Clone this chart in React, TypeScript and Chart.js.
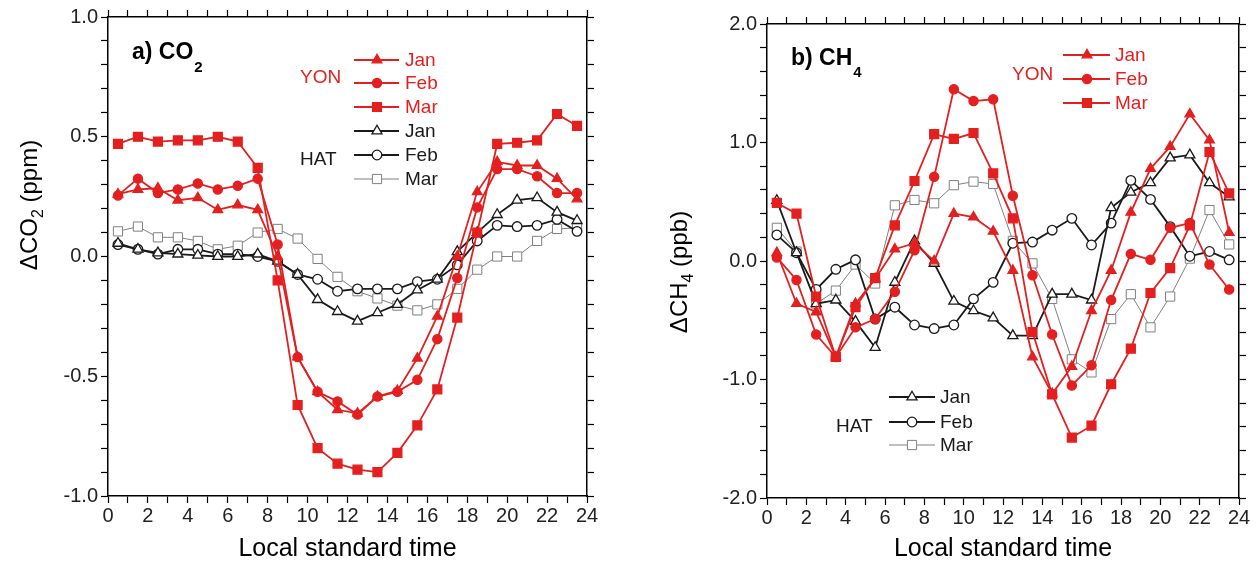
import React, { useEffect, useRef } from "react";
import { Chart, registerables } from "chart.js";
Chart.register(...registerables);

// ---------- data ----------
const hours = [0.5, 1.5, 2.5, 3.5, 4.5, 5.5, 6.5, 7.5, 8.5, 9.5, 10.5, 11.5, 12.5, 13.5, 14.5, 15.5, 16.5, 17.5, 18.5, 19.5, 20.5, 21.5, 22.5, 23.5];
const monthNames = ["Jan", "Feb", "Mar"];
const siteNames = ["YON", "HAT"];
const xTickLabelHours = [0, 2, 4, 6, 8, 10, 12, 14, 16, 18, 20, 22, 24];
const co2TickLabelValues = [-1.0, -0.5, 0.0, 0.5, 1.0];
const ch4TickLabelValues = [-2.0, -1.0, 0.0, 1.0, 2.0];

const co2YonJan = [0.26, 0.28, 0.285, 0.235, 0.245, 0.195, 0.215, 0.195, 0.0, -0.42, -0.565, -0.64, -0.655, -0.585, -0.56, -0.425, -0.25, 0.0, 0.27, 0.395, 0.38, 0.38, 0.325, 0.24];
const co2YonFeb = [0.255, 0.325, 0.265, 0.28, 0.305, 0.28, 0.295, 0.325, 0.05, -0.42, -0.565, -0.605, -0.66, -0.585, -0.565, -0.515, -0.345, -0.09, 0.205, 0.365, 0.365, 0.335, 0.265, 0.265];
const co2YonMar = [0.47, 0.5, 0.48, 0.485, 0.485, 0.5, 0.48, 0.37, -0.1, -0.62, -0.8, -0.865, -0.89, -0.9, -0.82, -0.705, -0.555, -0.255, 0.1, 0.47, 0.475, 0.485, 0.595, 0.545];
const co2HatJan = [0.055, 0.03, 0.015, 0.01, 0.005, 0.0, 0.0, 0.01, -0.02, -0.075, -0.18, -0.23, -0.27, -0.235, -0.2, -0.14, -0.095, 0.02, 0.1, 0.175, 0.235, 0.245, 0.185, 0.15];
const co2HatFeb = [0.05, 0.03, 0.01, 0.03, 0.03, 0.01, 0.01, 0.0, -0.02, -0.075, -0.095, -0.145, -0.135, -0.135, -0.135, -0.105, -0.095, -0.035, 0.065, 0.13, 0.125, 0.13, 0.155, 0.105];
const co2HatMar = [0.105, 0.125, 0.08, 0.08, 0.065, 0.03, 0.045, 0.1, 0.115, 0.075, -0.01, -0.085, -0.145, -0.175, -0.205, -0.225, -0.2, -0.135, -0.055, 0.0, 0.0, 0.065, 0.115, 0.12];

const ch4YonJan = [0.07, -0.36, -0.43, -0.81, -0.36, -0.15, 0.1, 0.15, 0.0, 0.4, 0.37, 0.25, -0.08, -0.81, -1.12, -0.89, -0.42, -0.08, 0.41, 0.78, 0.965, 1.24, 1.02, 0.24];
const ch4YonFeb = [0.03, -0.16, -0.62, -0.81, -0.56, -0.49, -0.26, 0.09, 0.71, 1.45, 1.35, 1.365, 0.55, -0.12, -0.62, -1.05, -0.88, -0.33, 0.06, 0.01, 0.28, 0.32, -0.03, -0.24];
const ch4YonMar = [0.49, 0.4, -0.3, -0.81, -0.39, -0.145, 0.3, 0.675, 1.07, 1.03, 1.08, 0.74, 0.36, -0.6, -1.125, -1.49, -1.39, -1.04, -0.74, -0.27, -0.06, 0.3, 0.92, 0.57];
const ch4HatJan = [0.51, 0.07, -0.36, -0.33, -0.51, -0.73, -0.18, 0.17, -0.02, -0.34, -0.42, -0.48, -0.63, -0.63, -0.28, -0.28, -0.33, 0.45, 0.58, 0.66, 0.87, 0.895, 0.66, 0.54];
const ch4HatFeb = [0.22, 0.07, -0.24, -0.07, 0.01, -0.49, -0.39, -0.54, -0.57, -0.54, -0.32, -0.18, 0.15, 0.16, 0.26, 0.36, 0.135, 0.32, 0.68, 0.52, 0.29, 0.04, 0.08, 0.01];
const ch4HatMar = [0.28, 0.08, -0.36, -0.25, -0.03, -0.19, 0.47, 0.515, 0.487, 0.64, 0.67, 0.65, 0.17, -0.02, -0.32, -0.83, -0.94, -0.49, -0.28, -0.56, -0.3, 0.02, 0.43, 0.14];

// ---------- styles ----------
const FONT = "'Liberation Sans', Arial, sans-serif";
const RED = "#e3201f";
const BLACK = "#1a1a1a";
const GRAY = "#808080";

type Shape = "triangle" | "circle" | "rect";
interface SeriesStyle { color: string; fill: string; shape: Shape; width: number; radius: number; text: string; }

const styles: SeriesStyle[] = [
  { color: RED, fill: RED, shape: "triangle", width: 1.8, radius: 5.6, text: RED },
  { color: RED, fill: RED, shape: "circle", width: 1.8, radius: 4.6, text: RED },
  { color: RED, fill: RED, shape: "rect", width: 1.8, radius: 6.3, text: RED },
  { color: BLACK, fill: "#ffffff", shape: "triangle", width: 1.8, radius: 5.8, text: BLACK },
  { color: BLACK, fill: "#ffffff", shape: "circle", width: 1.8, radius: 4.8, text: BLACK },
  { color: GRAY, fill: "#ffffff", shape: "rect", width: 1.0, radius: 6.5, text: BLACK },
];

function marker(ctx: CanvasRenderingContext2D, shape: Shape, x: number, y: number, r: number, fill: string, stroke: string, lw: number) {
  ctx.beginPath();
  if (shape === "circle") ctx.arc(x, y, r, 0, Math.PI * 2);
  else if (shape === "rect") { const s = r * Math.SQRT1_2; ctx.rect(x - s, y - s, 2 * s, 2 * s); }
  else {
    ctx.moveTo(x, y - r);
    ctx.lineTo(x + r * Math.cos(Math.PI / 6), y + r * 0.5);
    ctx.lineTo(x - r * Math.cos(Math.PI / 6), y + r * 0.5);
    ctx.closePath();
  }
  ctx.fillStyle = fill; ctx.fill();
  ctx.lineWidth = lw; ctx.strokeStyle = stroke; ctx.stroke();
}

interface LegendRow { idx: number; y: number; }
interface PanelCfg {
  left: number; width: number;
  area: { l: number; r: number; t: number; b: number };
  yMin: number; yMax: number; yStep: number; yLabels: number[];
  series: number[][];
  title: { main: string; sub: string; x: number; y: number; subY: number };
  yTitle: { pre: string; sub: string; post: string; x: number; cy: number };
  legendGroups: { name: string; color: string; nameX: number; nameY: number; x1: number; x2: number; mx: number; tx: number; rows: LegendRow[] }[];
}

function Panel({ cfg }: { cfg: PanelCfg }) {
  const ref = useRef<HTMLCanvasElement>(null);
  useEffect(() => {
    const canvas = ref.current!;
    const H = 562;
    const a = cfg.area;
    const gridOpt = { drawOnChartArea: false, drawTicks: true, tickLength: 7, color: "#000", tickWidth: 1.2 };
    const borderOpt = { display: true, color: "#000", width: 1.5 };
    const tickFont = { family: FONT, size: 20 };
    const datasets = cfg.series.map((vals, i) => {
      const s = styles[i];
      return {
        label: siteNames[i < 3 ? 0 : 1] + " " + monthNames[i % 3],
        data: hours.map((h, k) => ({ x: h, y: vals[k] })),
        borderColor: s.color, borderWidth: s.width,
        pointStyle: s.shape, pointRadius: s.radius, pointHoverRadius: s.radius,
        pointBackgroundColor: s.fill, pointBorderColor: s.color, pointBorderWidth: i === 5 ? 1 : 1.3,
        tension: 0, fill: false, showLine: true,
      };
    });
    const annot = {
      id: "annot",
      afterDraw(chart: any) {
        const ctx: CanvasRenderingContext2D = chart.ctx;
        ctx.save();
        ctx.fillStyle = "#000";
        ctx.textBaseline = "alphabetic";
        ctx.textAlign = "left";
        ctx.font = `bold 23px ${FONT}`;
        ctx.fillText(cfg.title.main, cfg.title.x, cfg.title.y);
        const w = ctx.measureText(cfg.title.main).width;
        ctx.font = `bold 15px ${FONT}`;
        ctx.fillText(cfg.title.sub, cfg.title.x + w + 1, cfg.title.subY);
        for (const g of cfg.legendGroups) {
          ctx.font = `19px ${FONT}`;
          ctx.fillStyle = g.color;
          ctx.textBaseline = "middle";
          ctx.fillText(g.name, g.nameX, g.nameY);
          for (const row of g.rows) {
            const s = styles[row.idx];
            ctx.beginPath();
            ctx.moveTo(g.x1, row.y); ctx.lineTo(g.x2, row.y);
            ctx.lineWidth = s.width; ctx.strokeStyle = s.color; ctx.stroke();
            marker(ctx, s.shape, g.mx, row.y, s.radius, s.fill, s.color, row.idx === 5 ? 1 : 1.3);
            ctx.fillStyle = s.text;
            ctx.font = `19px ${FONT}`;
            ctx.textBaseline = "middle";
            ctx.fillText(monthNames[row.idx % 3], g.tx, row.y + 1);
          }
        }
        ctx.fillStyle = "#000";
        ctx.font = `25px ${FONT}`;
        ctx.textAlign = "center";
        ctx.textBaseline = "alphabetic";
        ctx.fillText("Local standard time", (a.l + a.r) / 2, 556);
        const yt = cfg.yTitle;
        ctx.translate(yt.x, yt.cy);
        ctx.rotate(-Math.PI / 2);
        ctx.textAlign = "left";
        ctx.font = `24px ${FONT}`;
        const w1 = ctx.measureText(yt.pre).width;
        const w3 = ctx.measureText(yt.post).width;
        ctx.font = `16px ${FONT}`;
        const w2 = ctx.measureText(yt.sub).width;
        const x0 = -(w1 + w2 + w3) / 2;
        ctx.font = `24px ${FONT}`;
        ctx.fillText(yt.pre, x0, 0);
        ctx.font = `16px ${FONT}`;
        ctx.fillText(yt.sub, x0 + w1, 6);
        ctx.font = `24px ${FONT}`;
        ctx.fillText(yt.post, x0 + w1 + w2, 0);
        ctx.restore();
      },
    };
    const isLabel = (list: number[], v: number) => list.some((t) => Math.abs(t - v) < 1e-6);
    const chart = new Chart(canvas, {
      type: "line",
      data: { datasets },
      options: {
        animation: false,
        responsive: false,
        devicePixelRatio: 1,
        layout: { padding: 0 },
        plugins: { legend: { display: false }, tooltip: { enabled: false }, title: { display: false } },
        scales: {
          x: {
            type: "linear", position: "bottom", min: 0, max: 24,
            ticks: { stepSize: 1, autoSkip: false, maxRotation: 0, padding: 1, color: "#222", font: tickFont,
              callback: (v: any) => (isLabel(xTickLabelHours, Number(v)) ? String(Math.round(Number(v))) : "") },
            grid: gridOpt, border: borderOpt,
            afterFit: (s: any) => { s.height = H - a.b; },
          },
          xTop: {
            type: "linear", position: "top", min: 0, max: 24,
            ticks: { stepSize: 1, autoSkip: false, display: false },
            grid: gridOpt, border: borderOpt,
            afterFit: (s: any) => { s.height = a.t; },
          },
          y: {
            type: "linear", position: "left", min: cfg.yMin, max: cfg.yMax,
            ticks: { stepSize: cfg.yStep, autoSkip: false, padding: 3, color: "#222", font: tickFont,
              callback: (v: any) => (isLabel(cfg.yLabels, Number(v)) ? Number(v).toFixed(1) : "") },
            grid: gridOpt, border: borderOpt,
            afterFit: (s: any) => { s.width = a.l; },
          },
          yRight: {
            type: "linear", position: "right", min: cfg.yMin, max: cfg.yMax,
            ticks: { stepSize: cfg.yStep, autoSkip: false, display: false },
            grid: gridOpt, border: borderOpt,
            afterFit: (s: any) => { s.width = cfg.width - a.r; },
          },
        },
      } as any,
      plugins: [annot],
    });
    return () => chart.destroy();
  }, [cfg]);
  return (
    <canvas ref={ref} width={cfg.width} height={562}
      style={{ position: "absolute", left: cfg.left, top: 0, width: cfg.width, height: 562 }} />
  );
}

const co2Cfg: PanelCfg = {
  left: 0, width: 640,
  area: { l: 108, r: 587, t: 17, b: 496 },
  yMin: -1, yMax: 1, yStep: 0.1, yLabels: co2TickLabelValues,
  series: [co2YonJan, co2YonFeb, co2YonMar, co2HatJan, co2HatFeb, co2HatMar],
  title: { main: "a) CO", sub: "2", x: 132, y: 59, subY: 72 },
  yTitle: { pre: "\u0394CO", sub: "2", post: " (ppm)", x: 37, cy: 205 },
  legendGroups: [
    { name: "YON", color: RED, nameX: 300, nameY: 78, x1: 354, x2: 399, mx: 377, tx: 405,
      rows: [{ idx: 0, y: 60 }, { idx: 1, y: 83 }, { idx: 2, y: 107 }] },
    { name: "HAT", color: BLACK, nameX: 300, nameY: 160, x1: 354, x2: 399, mx: 377, tx: 405,
      rows: [{ idx: 3, y: 131 }, { idx: 4, y: 155 }, { idx: 5, y: 179 }] },
  ],
};

const ch4Cfg: PanelCfg = {
  left: 640, width: 618,
  area: { l: 127, r: 599, t: 24, b: 498 },
  yMin: -2, yMax: 2, yStep: 0.2, yLabels: ch4TickLabelValues,
  series: [ch4YonJan, ch4YonFeb, ch4YonMar, ch4HatJan, ch4HatFeb, ch4HatMar],
  title: { main: "b) CH", sub: "4", x: 151, y: 65, subY: 77 },
  yTitle: { pre: "\u0394CH", sub: "4", post: " (ppb)", x: 47, cy: 272 },
  legendGroups: [
    { name: "YON", color: RED, nameX: 372, nameY: 75, x1: 423, x2: 470, mx: 447, tx: 475,
      rows: [{ idx: 0, y: 55 }, { idx: 1, y: 79 }, { idx: 2, y: 103 }] },
    { name: "HAT", color: BLACK, nameX: 196, nameY: 427, x1: 249, x2: 295, mx: 272, tx: 300,
      rows: [{ idx: 3, y: 397 }, { idx: 4, y: 422 }, { idx: 5, y: 445 }] },
  ],
};

export default function App() {
  return (
    <div style={{ position: "absolute", left: 0, top: 0, width: 1258, height: 562, background: "#fff" }}>
      <Panel cfg={co2Cfg} />
      <Panel cfg={ch4Cfg} />
    </div>
  );
}
